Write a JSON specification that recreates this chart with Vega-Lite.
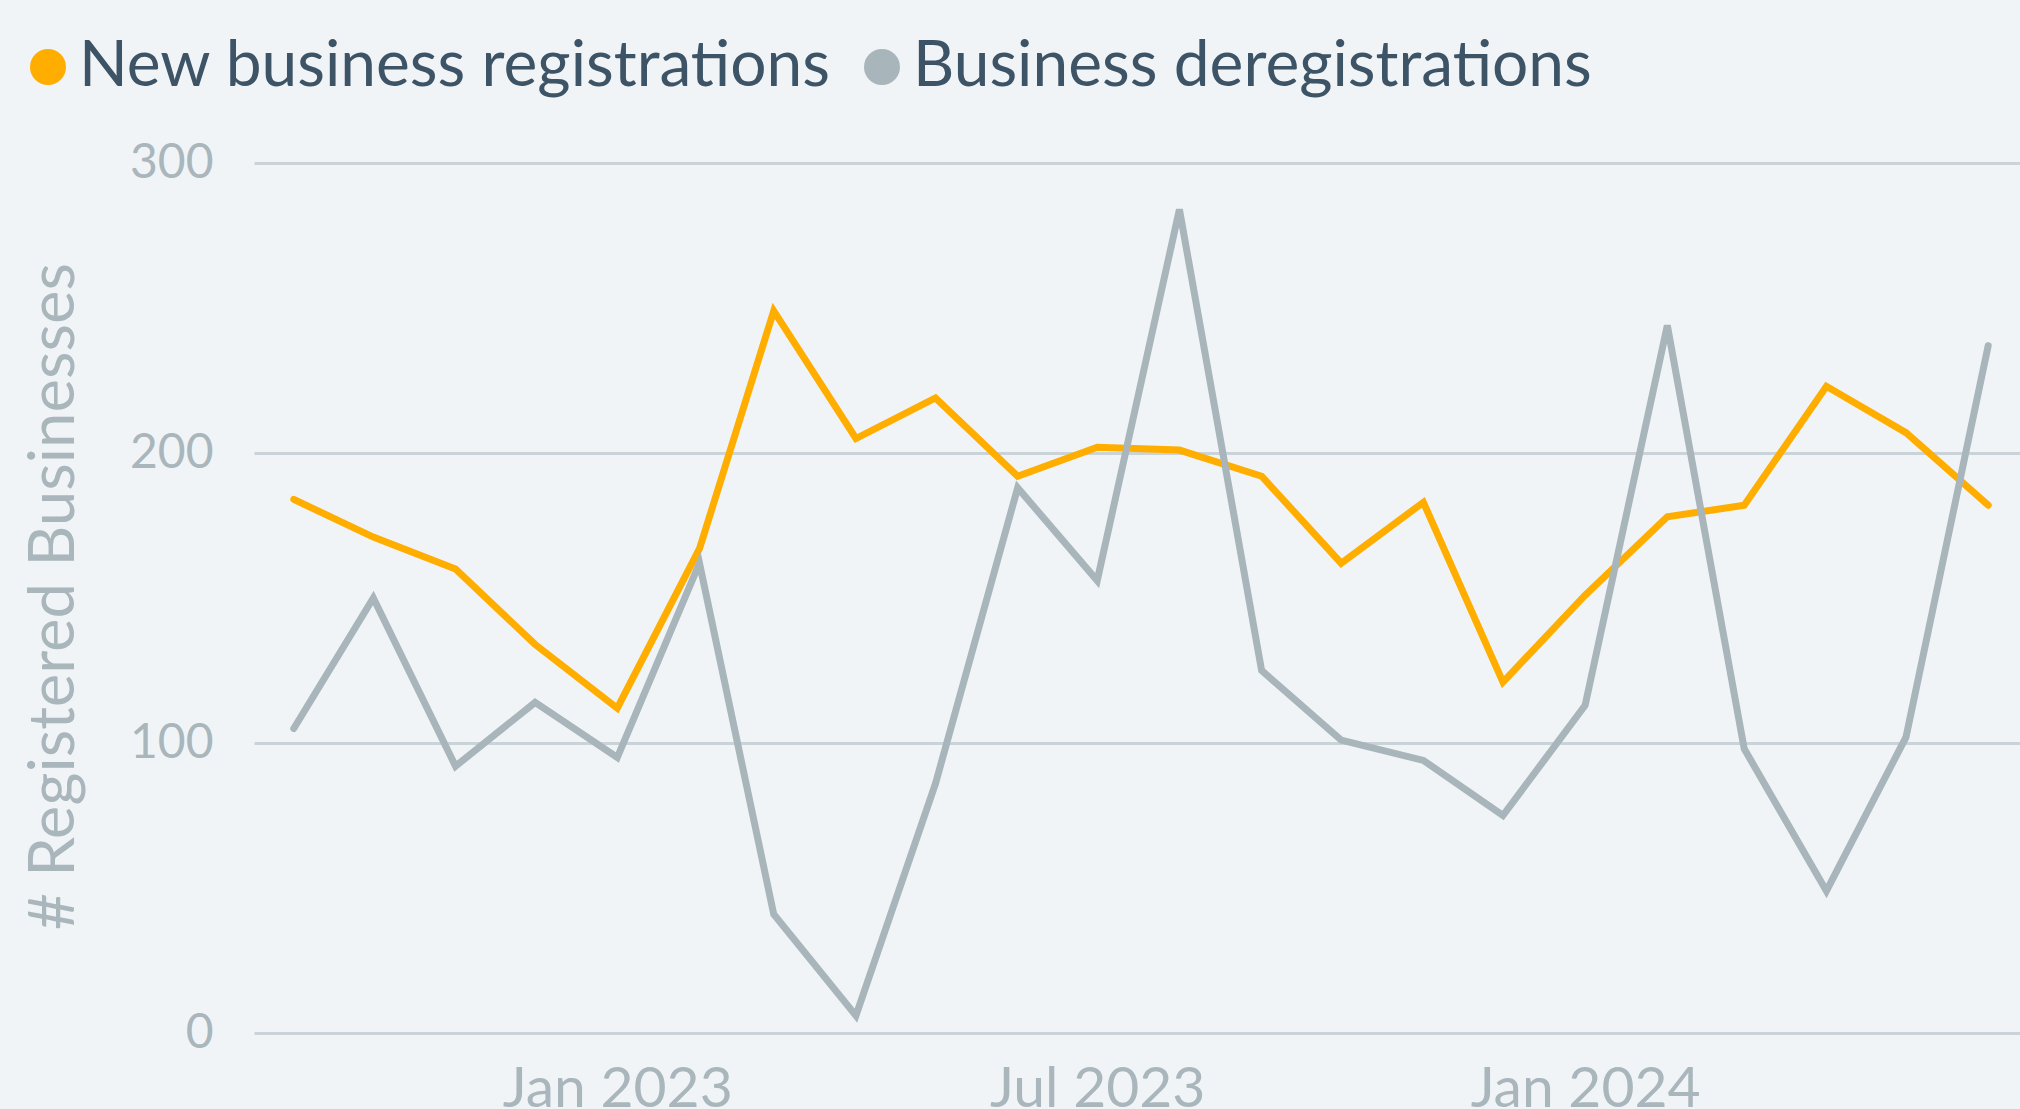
{
  "$schema": "https://vega.github.io/schema/vega-lite/v6.json",
  "autosize": {"type": "none"},
  "padding": {"left": 254, "top": 163, "right": 0, "bottom": 76},
  "width": 1766,
  "height": 870,
  "background": "#F1F4F7",
  "data": {
    "values": [
      {"date": "2022-09-01", "series": "New business registrations", "value": 184},
      {"date": "2022-10-01", "series": "New business registrations", "value": 171},
      {"date": "2022-11-01", "series": "New business registrations", "value": 160},
      {"date": "2022-12-01", "series": "New business registrations", "value": 134},
      {"date": "2023-01-01", "series": "New business registrations", "value": 112},
      {"date": "2023-02-01", "series": "New business registrations", "value": 167},
      {"date": "2023-03-01", "series": "New business registrations", "value": 249},
      {"date": "2023-04-01", "series": "New business registrations", "value": 205},
      {"date": "2023-05-01", "series": "New business registrations", "value": 219},
      {"date": "2023-06-01", "series": "New business registrations", "value": 192},
      {"date": "2023-07-01", "series": "New business registrations", "value": 202},
      {"date": "2023-08-01", "series": "New business registrations", "value": 201},
      {"date": "2023-09-01", "series": "New business registrations", "value": 192},
      {"date": "2023-10-01", "series": "New business registrations", "value": 162},
      {"date": "2023-11-01", "series": "New business registrations", "value": 183},
      {"date": "2023-12-01", "series": "New business registrations", "value": 121},
      {"date": "2024-01-01", "series": "New business registrations", "value": 151},
      {"date": "2024-02-01", "series": "New business registrations", "value": 178},
      {"date": "2024-03-01", "series": "New business registrations", "value": 182},
      {"date": "2024-04-01", "series": "New business registrations", "value": 223},
      {"date": "2024-05-01", "series": "New business registrations", "value": 207},
      {"date": "2024-06-01", "series": "New business registrations", "value": 182},
      {"date": "2022-09-01", "series": "Business deregistrations", "value": 105},
      {"date": "2022-10-01", "series": "Business deregistrations", "value": 150},
      {"date": "2022-11-01", "series": "Business deregistrations", "value": 92},
      {"date": "2022-12-01", "series": "Business deregistrations", "value": 114},
      {"date": "2023-01-01", "series": "Business deregistrations", "value": 95},
      {"date": "2023-02-01", "series": "Business deregistrations", "value": 162},
      {"date": "2023-03-01", "series": "Business deregistrations", "value": 41},
      {"date": "2023-04-01", "series": "Business deregistrations", "value": 6},
      {"date": "2023-05-01", "series": "Business deregistrations", "value": 86},
      {"date": "2023-06-01", "series": "Business deregistrations", "value": 188},
      {"date": "2023-07-01", "series": "Business deregistrations", "value": 156},
      {"date": "2023-08-01", "series": "Business deregistrations", "value": 284},
      {"date": "2023-09-01", "series": "Business deregistrations", "value": 125},
      {"date": "2023-10-01", "series": "Business deregistrations", "value": 101},
      {"date": "2023-11-01", "series": "Business deregistrations", "value": 94},
      {"date": "2023-12-01", "series": "Business deregistrations", "value": 75},
      {"date": "2024-01-01", "series": "Business deregistrations", "value": 113},
      {"date": "2024-02-01", "series": "Business deregistrations", "value": 244},
      {"date": "2024-03-01", "series": "Business deregistrations", "value": 98},
      {"date": "2024-04-01", "series": "Business deregistrations", "value": 49},
      {"date": "2024-05-01", "series": "Business deregistrations", "value": 102},
      {"date": "2024-06-01", "series": "Business deregistrations", "value": 237}
    ]
  },
  "mark": {"type": "line", "strokeWidth": 7, "strokeCap": "round", "strokeJoin": "miter", "clip": false},
  "encoding": {
    "x": {
      "field": "date",
      "type": "temporal",
      "scale": {"type": "utc", "domain": ["2022-08-17", "2024-06-13"], "nice": false},
      "axis": {
        "title": null,
        "format": "%b %Y",
        "tickCount": {"interval": "month", "step": 6},
        "grid": false,
        "domain": false,
        "ticks": false,
        "labelFont": "Lato",
        "labelFontSize": 57,
        "labelColor": "#A9B6BC",
        "labelPadding": 28,
        "labelLimit": 0,
        "labelFlush": false,
        "labelOverlap": false
      }
    },
    "y": {
      "field": "value",
      "type": "quantitative",
      "scale": {"domain": [0, 300], "nice": false, "zero": true},
      "axis": {
        "title": "# Registered Businesses",
        "values": [0, 100, 200, 300],
        "grid": true,
        "gridColor": "#CAD3D8",
        "gridWidth": 3,
        "domain": false,
        "ticks": false,
        "labelFont": "Lato",
        "labelFontSize": 48,
        "labelColor": "#A9B6BC",
        "labelPadding": 41,
        "titleFont": "Lato",
        "titleFontSize": 63.5,
        "titleFontWeight": "normal",
        "titleColor": "#A9B6BC",
        "titleX": -200,
        "titleY": 433,
        "titleAngle": -90,
        "titleAlign": "center",
        "titleBaseline": "middle",
        "titleLimit": 0
      }
    },
    "color": {
      "field": "series",
      "type": "nominal",
      "scale": {
        "domain": ["New business registrations", "Business deregistrations"],
        "range": ["#FFAE00", "#A8B5BB"]
      },
      "legend": {
        "title": null,
        "orient": "none",
        "legendX": -238,
        "legendY": -128,
        "direction": "horizontal",
        "symbolType": "circle",
        "symbolSize": 1296,
        "labelFont": "Lato",
        "labelFontSize": 64,
        "labelColor": "#3D5366",
        "labelOffset": -1,
        "labelLimit": 0,
        "columnPadding": 18,
        "padding": 0,
        "encode": {
          "symbols": {
            "update": {
              "fill": {"scale": "color", "field": "value"},
              "strokeWidth": {"value": 0},
              "opacity": {"value": 1}
            }
          }
        }
      }
    }
  },
  "config": {"view": {"stroke": null}}
}
